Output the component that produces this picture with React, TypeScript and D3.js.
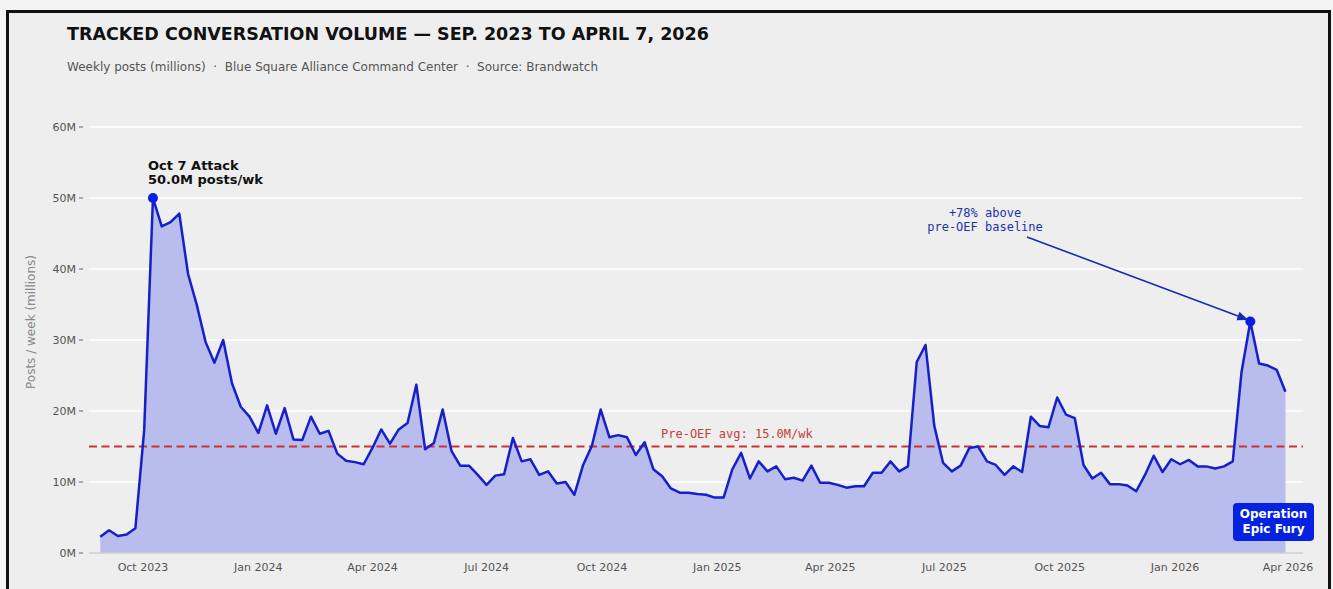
import React from "react";
import * as d3 from "d3";

// ---- Data ----
const START_DATE = "2023-08-28"; // first weekly point (Monday)
const weeklyPosts: number[] = [
  2.3, 3.2, 2.4, 2.6, 3.5, 17.3, 50.0, 46.0, 46.6, 47.8,
  39.3, 34.9, 29.7, 26.8, 30.0, 23.9, 20.6, 19.2, 16.9, 20.8,
  16.8, 20.4, 16.0, 15.9, 19.2, 16.8, 17.2, 14.0, 13.0, 12.8,
  12.5, 14.8, 17.4, 15.4, 17.4, 18.3, 23.7, 14.6, 15.5, 20.2,
  14.4, 12.3, 12.3, 11.0, 9.6, 10.9, 11.1, 16.2, 12.9, 13.2,
  11.0, 11.5, 9.8, 10.0, 8.2, 12.4, 15.1, 20.2, 16.3, 16.6,
  16.3, 13.8, 15.6, 11.8, 10.8, 9.1, 8.5, 8.5, 8.3, 8.2,
  7.8, 7.8, 11.8, 14.1, 10.5, 12.9, 11.5, 12.2, 10.4, 10.6,
  10.2, 12.3, 9.9, 9.9, 9.6, 9.2, 9.4, 9.4, 11.3, 11.3,
  12.9, 11.5, 12.2, 26.9, 29.3, 17.9, 12.7, 11.5, 12.3, 14.8,
  15.0, 12.9, 12.4, 11.0, 12.2, 11.4, 19.2, 17.9, 17.7, 21.9,
  19.5, 19.0, 12.4, 10.5, 11.3, 9.7, 9.7, 9.5, 8.7, 11.0,
  13.7, 11.4, 13.2, 12.5, 13.1, 12.2, 12.2, 11.9, 12.2, 12.9,
  25.5, 32.6, 26.7, 26.4, 25.8, 22.7,
];
const yTicks = [0, 10, 20, 30, 40, 50, 60];
const xTickDates = [
  "2023-10-01", "2024-01-01", "2024-04-01", "2024-07-01", "2024-10-01",
  "2025-01-01", "2025-04-01", "2025-07-01", "2025-10-01", "2026-01-01", "2026-04-01",
];
const baselineAvg = 15.0;
const peakIndex = 6;   // Oct 7 attack week
const oefIndex = 131;  // Operation Epic Fury peak week

const TITLE = "TRACKED CONVERSATION VOLUME — SEP. 2023 TO APRIL 7, 2026";
const SUBTITLE =
  "Weekly posts (millions)  ·  Blue Square Alliance Command Center  ·  Source: Brandwatch";

const W = 1333;
const H = 589;
const FONT = "'DejaVu Sans', sans-serif";
const MONO = "'DejaVu Sans Mono', monospace";

const parse = d3.utcParse("%Y-%m-%d");

export default function App() {
  const start = parse(START_DATE) as Date;
  const data = weeklyPosts.map((v, i) => ({ date: d3.utcDay.offset(start, i * 7), v }));

  const x = d3
    .scaleUtc()
    .domain([parse("2023-08-19") as Date, parse("2026-04-13") as Date])
    .range([89, 1303]);
  const y = d3.scaleLinear().domain([0, 60]).range([553, 127]);

  const line = d3
    .line<{ date: Date; v: number }>()
    .x((d) => x(d.date))
    .y((d) => y(d.v));
  const area = d3
    .area<{ date: Date; v: number }>()
    .x((d) => x(d.date))
    .y0(y(0))
    .y1((d) => y(d.v));

  const fmt = d3.utcFormat("%b %Y");
  const peak = data[peakIndex];
  const oef = data[oefIndex];

  const lineColor = "#1520c8";
  const dotColor = "#0a1ee6";

  // arrow geometry
  const ax0 = 1027, ay0 = 237;
  const ax1 = x(oef.date) - 3, ay1 = y(oef.v) - 2;

  return (
    <div style={{ position: "fixed", left: 0, top: 0, width: W, height: H }}>
      <svg width={W} height={H} style={{ display: "block" }}>
        <defs>
          <marker id="arr" viewBox="0 0 10 10" refX="9" refY="5" markerWidth="7" markerHeight="7" orient="auto">
            <path d="M0,1 L10,5 L0,9 z" fill="#1a2ab8" />
          </marker>
        </defs>
        <rect x={0} y={0} width={W} height={H} fill="#f4f4f4" />
        <rect x={7.5} y={11.5} width={1322} height={620} fill="#eeeeee" stroke="#111" strokeWidth={3} />

        {/* title */}
        <text x={67} y={40} fontFamily={FONT} fontWeight="bold" fontSize={17.5} fill="#111">
          {TITLE}
        </text>
        <text x={67} y={71} fontFamily={FONT} fontSize={12} fill="#555" style={{ whiteSpace: "pre" }}>
          {SUBTITLE}
        </text>

        {/* grid */}
        {yTicks.map((t) => (
          <g key={t}>
            {t > 0 && (
              <line x1={89} x2={1303} y1={y(t)} y2={y(t)} stroke="#ffffff" strokeWidth={1.3} />
            )}
            <text x={76} y={y(t) + 4} textAnchor="end" fontFamily={FONT} fontSize={11} fill="#555">
              {`${t}M`}
            </text>
            <line x1={79} x2={83} y1={y(t)} y2={y(t)} stroke="#666" strokeWidth={1} />
          </g>
        ))}
        <text
          transform={`translate(35,322) rotate(-90)`}
          textAnchor="middle"
          fontFamily={FONT}
          fontSize={12}
          fill="#888"
        >
          Posts / week (millions)
        </text>

        {/* area + line */}
        <path d={area(data) || ""} fill="#b9bdee" />
        <line x1={89} x2={1303} y1={y(0)} y2={y(0)} stroke="#cfcfcf" strokeWidth={1.5} />
        <line
          x1={89}
          x2={1303}
          y1={y(baselineAvg)}
          y2={y(baselineAvg)}
          stroke="#cc3333"
          strokeWidth={2}
          strokeDasharray="8,4.5"
        />
        <text x={661} y={438} fontFamily={MONO} fontSize={12} fill="#c04040">
          {`Pre-OEF avg: ${baselineAvg.toFixed(1)}M/wk`}
        </text>
        <path d={line(data) || ""} fill="none" stroke={lineColor} strokeWidth={2.5} strokeLinejoin="round" />

        {/* x ticks */}
        {xTickDates.map((s) => {
          const d = parse(s) as Date;
          return (
            <text key={s} x={x(d)} y={571} textAnchor="middle" fontFamily={FONT} fontSize={11} fill="#555">
              {fmt(d)}
            </text>
          );
        })}

        {/* peak annotation */}
        <circle cx={x(peak.date)} cy={y(peak.v)} r={5} fill={dotColor} />
        <text x={148} y={170} fontFamily={FONT} fontWeight="bold" fontSize={13} fill="#111">
          Oct 7 Attack
        </text>
        <text x={148} y={184} fontFamily={FONT} fontWeight="bold" fontSize={13} fill="#111">
          {`${peak.v.toFixed(1)}M posts/wk`}
        </text>

        {/* OEF annotation */}
        <circle cx={x(oef.date)} cy={y(oef.v)} r={5} fill={dotColor} />
        <line x1={ax0} y1={ay0} x2={ax1} y2={ay1} stroke="#1a2ab8" strokeWidth={1.6} markerEnd="url(#arr)" />
        <text x={985} y={217} textAnchor="middle" fontFamily={MONO} fontSize={12} fill="#2233aa">
          +78% above
        </text>
        <text x={985} y={231} textAnchor="middle" fontFamily={MONO} fontSize={12} fill="#2233aa">
          pre-OEF baseline
        </text>

        {/* Operation box */}
        <rect x={1233} y={503} width={81} height={38} rx={4} fill="#0522e0" />
        <text x={1273.5} y={518} textAnchor="middle" fontFamily={FONT} fontWeight="bold" fontSize={12} fill="#fff">
          Operation
        </text>
        <text x={1273.5} y={533} textAnchor="middle" fontFamily={FONT} fontWeight="bold" fontSize={12} fill="#fff">
          Epic Fury
        </text>
      </svg>
    </div>
  );
}
